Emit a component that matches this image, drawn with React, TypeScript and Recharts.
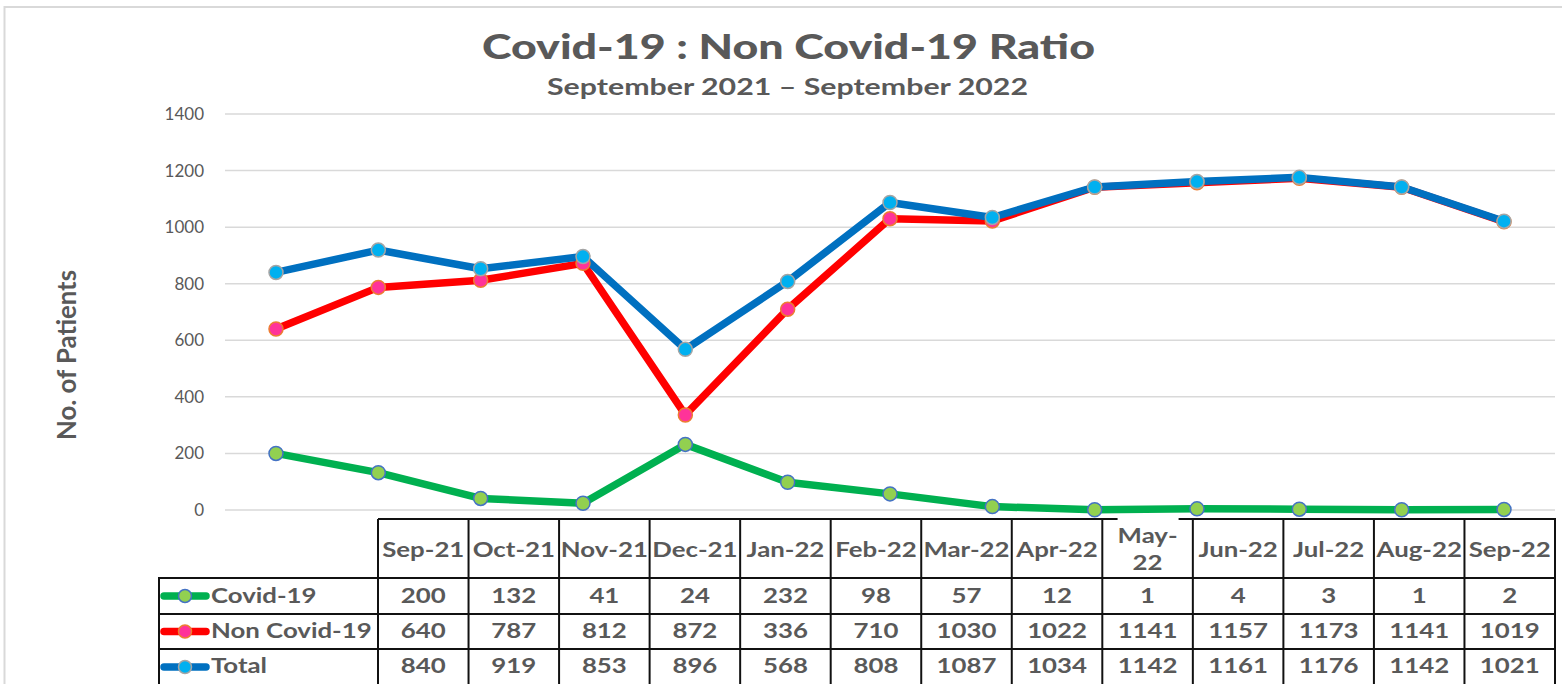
import React from 'react';
import { LineChart, Line, XAxis, YAxis, CartesianGrid } from 'recharts';

const months = ['Sep-21', 'Oct-21', 'Nov-21', 'Dec-21', 'Jan-22', 'Feb-22', 'Mar-22', 'Apr-22', 'May-22', 'Jun-22', 'Jul-22', 'Aug-22', 'Sep-22'];
const covid = [200, 132, 41, 24, 232, 98, 57, 12, 1, 4, 3, 1, 2];
const nonCovid = [640, 787, 812, 872, 336, 710, 1030, 1022, 1141, 1157, 1173, 1141, 1019];
const total = [840, 919, 853, 896, 568, 808, 1087, 1034, 1142, 1161, 1176, 1142, 1021];
const yTicks = [0, 200, 400, 600, 800, 1000, 1200, 1400];
const seriesNames = ['Covid-19', 'Non Covid-19', 'Total'];
const titleText = 'Covid-19 : Non Covid-19 Ratio';
const subtitleText = 'September 2021 \u2013 September 2022';
const yLabelText = 'No. of Patients';

const data = months.map((m, i) => ({ month: m, covid: covid[i], nonCovid: nonCovid[i], total: total[i] }));

const W = 1562;
const H = 684;
const TEXT = '#595959';
const FONT = 'Lato, "Open Sans", sans-serif';

const seriesStyle = [
  { key: 'covid', line: '#00B050', fill: '#92D050', stroke: '#4472C4', values: covid },
  { key: 'nonCovid', line: '#FF0000', fill: '#FF3399', stroke: '#ED7D31', values: nonCovid },
  { key: 'total', line: '#0070C0', fill: '#00B0F0', stroke: '#A5A5A5', values: total },
];

// table layout
const tblX0 = 378;
const tblX1 = 1555;
const legX0 = 159;
const rowY = [519, 578, 614, 649, 685];
const colW = (tblX1 - tblX0) / months.length;

const StretchText = ({ x, y, children, size = 21.5, anchor = 'middle', weight = 700 }: any) => (
  <text
    transform={`translate(${x},${y}) scale(1.2,1)`}
    textAnchor={anchor}
    fontFamily={FONT}
    fontWeight={weight}
    fontSize={size}
    fill={TEXT}
  >
    {children}
  </text>
);

const DataTable = () => {
  const lines: any[] = [];
  const bw = 2;
  lines.push(<line key="h0" x1={tblX0} x2={tblX1 + 1} y1={rowY[0]} y2={rowY[0]} stroke="#111" strokeWidth={bw} />);
  for (let r = 1; r < rowY.length; r++) {
    lines.push(<line key={'h' + r} x1={legX0 - 1} x2={tblX1 + 1} y1={rowY[r]} y2={rowY[r]} stroke="#111" strokeWidth={bw} />);
  }
  lines.push(<line key="vl" x1={legX0} x2={legX0} y1={rowY[1]} y2={rowY[4]} stroke="#111" strokeWidth={bw} />);
  for (let c = 0; c <= months.length; c++) {
    const x = tblX0 + c * colW;
    lines.push(<line key={'v' + c} x1={x} x2={x} y1={rowY[0]} y2={rowY[4]} stroke="#111" strokeWidth={bw} />);
  }
  const headers = months.map((m, i) => {
    const cx = tblX0 + (i + 0.5) * colW;
    if (m.startsWith('May')) {
      const [a, b] = m.split('-');
      return (
        <g key={'hd' + i}>
          <StretchText x={cx} y={543}>{a + '-'}</StretchText>
          <StretchText x={cx} y={570}>{b}</StretchText>
        </g>
      );
    }
    return <StretchText key={'hd' + i} x={cx} y={557}>{m}</StretchText>;
  });
  const mayIdx = months.findIndex((m) => m.startsWith('May'));
  const mayCx = tblX0 + (mayIdx + 0.5) * colW;
  const baselines = [603, 638, 673];
  const cells: any[] = [];
  seriesStyle.forEach((s, r) => {
    s.values.forEach((v, i) => {
      const cx = tblX0 + (i + 0.5) * colW;
      cells.push(<StretchText key={`c${r}-${i}`} x={cx} y={baselines[r]}>{String(v)}</StretchText>);
    });
    const cy = (rowY[r + 1] + rowY[r + 2]) / 2;
    cells.push(
      <g key={'leg' + r}>
        <line x1={164} x2={206} y1={cy} y2={cy} stroke={s.line} strokeWidth={7.5} strokeLinecap="round" />
        <circle cx={185} cy={cy} r={6.5} fill={s.fill} stroke={s.stroke} strokeWidth={1.5} />
        <StretchText x={211} y={baselines[r]} anchor="start">{seriesNames[r]}</StretchText>
      </g>
    );
  });
  return (
    <svg width={W} height={H} style={{ position: 'absolute', left: 0, top: 0, pointerEvents: 'none' }}>
      {lines}
      {mayIdx >= 0 && <rect x={mayCx - 30} y={rowY[0] - 2} width={61} height={5} fill="#fff" />}
      {headers}
      {cells}
    </svg>
  );
};

const Titles = () => (
  <svg width={W} height={H} style={{ position: 'absolute', left: 0, top: 0, pointerEvents: 'none' }}>
    <rect x={4.5} y={7} width={W + 10} height={H + 10} fill="none" stroke="#d9d9d9" strokeWidth={2} />
    <text x={482} y={59} textLength={613} lengthAdjust="spacingAndGlyphs" fontFamily={FONT} fontWeight={900} fontSize={35} fill={TEXT}>
      {titleText}
    </text>
    <text x={547} y={95} textLength={481} lengthAdjust="spacingAndGlyphs" fontFamily={FONT} fontWeight={700} fontSize={22} fill={TEXT}>
      {subtitleText}
    </text>
    <text
      transform="translate(76,355) rotate(-90)"
      textAnchor="middle"
      textLength={170}
      lengthAdjust="spacingAndGlyphs"
      fontFamily={FONT}
      fontWeight={700}
      fontSize={26}
      fill={TEXT}
    >
      {yLabelText}
    </text>
  </svg>
);

export default function App() {
  return (
    <div style={{ position: 'absolute', left: 0, top: 0, width: W, height: H, overflow: 'hidden', background: '#fff' }}>
      <LineChart width={W} height={H} data={data} margin={{ top: 114, right: 7, bottom: 174, left: 0 }}>
        <CartesianGrid vertical={false} stroke="#d9d9d9" strokeWidth={1.5} />
        <XAxis dataKey="month" hide padding={{ left: 51, right: 51 }} />
        <YAxis
          width={225}
          domain={[0, 1400]}
          ticks={yTicks}
          axisLine={false}
          tickLine={false}
          tickMargin={15}
          tick={{ fill: TEXT, fontSize: 17, fontFamily: FONT }}
        />
        {seriesStyle.map((s) => (
          <Line
            key={s.key}
            type="linear"
            dataKey={s.key}
            stroke={s.line}
            strokeWidth={7.5}
            strokeLinejoin="round"
            dot={{ r: 7, fill: s.fill, stroke: s.stroke, strokeWidth: 1.5 }}
            activeDot={false}
            isAnimationActive={false}
          />
        ))}
      </LineChart>
      <Titles />
      <DataTable />
    </div>
  );
}
